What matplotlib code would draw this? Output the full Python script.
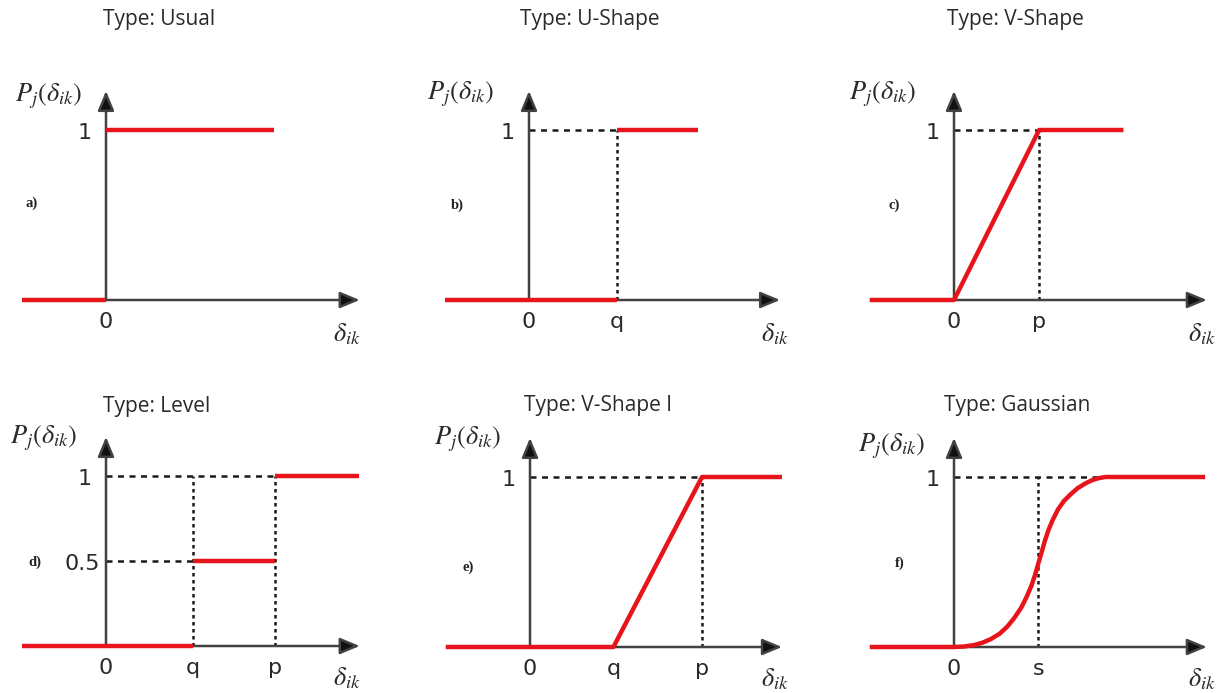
import numpy as np
import matplotlib
matplotlib.use("Agg")
import matplotlib.pyplot as plt
from matplotlib.patches import ArrowStyle

plt.rcParams['mathtext.fontset'] = 'stix'

# ---------------- data ----------------
titles = ["Type: Usual", "Type: U-Shape", "Type: V-Shape",
          "Type: Level", "Type: V-Shape I", "Type: Gaussian"]
panel_tags = ["a)", "b)", "c)", "d)", "e)", "f)"]

# threshold positions (0 at the y axis)
q_b = 1.02
p_c = 0.99
q_d, p_d = 1.01, 1.97
q_e, p_e = 0.97, 2.00
s_f = 0.98

# red preference functions (NaN separates pieces)
usual_x = [-0.98, 0.0, np.nan, 0.0, 1.95]
usual_y = [0.0, 0.0, np.nan, 1.0, 1.0]
ushape_x = [-0.98, q_b, np.nan, q_b, 1.97]
ushape_y = [0.0, 0.0, np.nan, 1.0, 1.0]
vshape_x = [-0.98, 0.0, p_c, 1.97]
vshape_y = [0.0, 0.0, 1.0, 1.0]
level_x = [-0.98, q_d, np.nan, q_d, p_d, np.nan, p_d, 2.94]
level_y = [0.0, 0.0, np.nan, 0.5, 0.5, np.nan, 1.0, 1.0]
vshape1_x = [-0.98, q_e, p_e, 2.93]
vshape1_y = [0.0, 0.0, 1.0, 1.0]
gauss_x = [-0.98, 0.0, 0.12, 0.24, 0.34, 0.43, 0.53, 0.62, 0.70, 0.78, 0.84,
           0.90, 0.94, 0.98, 1.02, 1.06, 1.10, 1.15, 1.21, 1.28, 1.36, 1.44,
           1.52, 1.60, 1.68, 1.76, 1.86, 2.92]
gauss_y = [0.0, 0.0, 0.003, 0.012, 0.027, 0.047, 0.078, 0.12, 0.17, 0.23, 0.29,
           0.36, 0.42, 0.49, 0.56, 0.63, 0.69, 0.75, 0.81, 0.86, 0.90, 0.935,
           0.96, 0.98, 0.993, 1.0, 1.0, 1.0]

curves_x = [usual_x, ushape_x, vshape_x, level_x, vshape1_x, gauss_x]
curves_y = [usual_y, ushape_y, vshape_y, level_y, vshape1_y, gauss_y]

# dashed guide lines: (x0, x1, y0, y1)
guides = [
    [],
    [(0, q_b, 1, 1), (q_b, q_b, 0, 1)],
    [(0, p_c, 1, 1), (p_c, p_c, 0, 1)],
    [(0, p_d, 1, 1), (0, q_d, 0.5, 0.5), (q_d, q_d, 0, 1), (p_d, p_d, 0, 1)],
    [(0, p_e, 1, 1), (p_e, p_e, 0, 1)],
    [(0, 1.76, 1, 1), (s_f, s_f, 0, 1)],
]

# x tick labels under the axis
xtick_pos = [[0], [0, q_b], [0, p_c], [0, q_d, p_d], [0, q_e, p_e], [0, s_f]]
xtick_lab = [["0"], ["0", "q"], ["0", "p"], ["0", "q", "p"], ["0", "q", "p"], ["0", "s"]]
ytick_pos = [[1], [1], [1], [1, 0.5], [1], [1]]
ytick_lab = [["1"], ["1"], ["1"], ["1", "0.5"], ["1"], ["1"]]

# ---------------- layout ----------------
W, H = 1222, 693
PX_X, PX_Y = 86.0, 170.0          # pixels per data unit
origins = [(106, 300), (529, 300), (954, 300), (106, 646), (530, 647), (954, 647)]
xlim = (-1.2, 3.2)
ylims = [(-0.3, 1.75)] * 3 + [(-0.28, 1.5)] * 3
title_pos = [(0.62, 1.65), (0.71, 1.65), (0.71, 1.65),
             (0.59, 1.41), (0.79, 1.42), (0.74, 1.42)]
tag_pos = [(-0.86, 0.57), (-0.83, 0.56), (-0.69, 0.56),
           (-0.83, 0.49), (-0.72, 0.47), (-0.63, 0.49)]
plabel_pos = [(-0.67, 1.2), (-0.8, 1.21), (-0.83, 1.21),
              (-0.73, 1.22), (-0.73, 1.22), (-0.72, 1.18)]
dlabel_pos = [(2.8, -0.2), (2.86, -0.2), (2.88, -0.2),
              (2.8, -0.19), (2.85, -0.19), (2.88, -0.19)]
xtip = [2.95, 2.92, 2.94, 2.95, 2.93, 2.94]
ytip = 1.23

fig = plt.figure(figsize=(W / 100, H / 100), dpi=100)
fig.patch.set_facecolor("white")

RED = "#e8141c"
AX = "#424242"
TXT = "#2a2a2a"
arrow_style = ArrowStyle("-|>", head_length=0.6, head_width=0.25)

for i in range(6):
    ox, oy = origins[i]
    ylo, yhi = ylims[i]
    left = (ox + xlim[0] * PX_X) / W
    bottom = (H - (oy - ylo * PX_Y)) / H
    width = (xlim[1] - xlim[0]) * PX_X / W
    height = (yhi - ylo) * PX_Y / H
    ax = fig.add_axes([left, bottom, width, height])
    ax.set_xlim(*xlim)
    ax.set_ylim(ylo, yhi)
    ax.axis("off")

    # guides
    for (x0, x1, y0, y1) in guides[i]:
        ls = (0, (2.4, 2.2)) if y0 == y1 else (0, (1.4, 1.4))
        ax.plot([x0, x1], [y0, y1], color="#1a1a1a", lw=1.8, linestyle=ls, zorder=2)

    # axes arrows
    for tip in [(xtip[i], 0), (0, ytip)]:
        ax.annotate("", xy=tip, xytext=(0, 0),
                    arrowprops=dict(arrowstyle=arrow_style, color=AX, lw=1.8,
                                    mutation_scale=20, shrinkA=0, shrinkB=0,
                                    fc="#111111"), zorder=3)

    # red function
    ax.plot(curves_x[i], curves_y[i], color=RED, lw=3.2,
            solid_capstyle="butt", solid_joinstyle="round", zorder=4)

    # tick labels
    for xp, lab in zip(xtick_pos[i], xtick_lab[i]):
        ax.text(xp, -0.13, lab, ha="center", va="center", fontsize=16,
                family="DejaVu Sans", color=TXT)
    for yp, lab in zip(ytick_pos[i], ytick_lab[i]):
        xoff = -0.07 if lab == "0.5" else -0.17
        ax.text(xoff, yp - 0.02, lab, ha="right", va="center", fontsize=16,
                family="DejaVu Sans", color=TXT)

    # labels
    ax.text(*plabel_pos[i], r"$P_j(\delta_{ik})$", ha="center", va="center",
            fontsize=19, color=TXT)
    ax.text(*dlabel_pos[i], r"$\delta_{ik}$", ha="center", va="center",
            fontsize=19, color=TXT)
    ax.text(*title_pos[i], titles[i], ha="center", va="center", fontsize=15,
            family="Open Sans", color=TXT)
    ax.text(*tag_pos[i], panel_tags[i], ha="center", va="center", fontsize=10.5,
            family="Liberation Serif", weight="bold", color="#222222")

fig.savefig("out.png", dpi=100, facecolor="white")
